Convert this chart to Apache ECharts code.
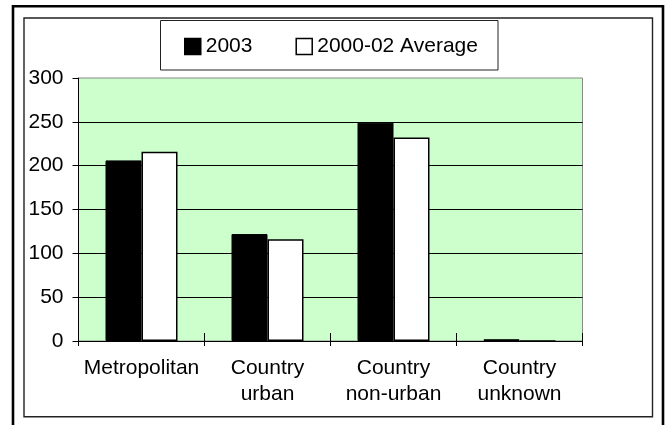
<!DOCTYPE html>
<html>
<head>
<meta charset="utf-8">
<script src="https://cdn.jsdelivr.net/npm/echarts@6/dist/echarts.min.js"></script>
<style>
  html, body { margin: 0; padding: 0; background: #fff; }
  #chart { width: 666px; height: 425px; }
</style>
</head>
<body>
<div id="chart"></div>
<script>
var categories = ['Metropolitan', 'Country\nurban', 'Country\nnon-urban', 'Country\nunknown'];
var seriesNames = ['2003', '2000-02 Average'];
var values2003 = [206, 122, 249, 2];
var valuesAvg = [216, 116, 232, 0];

var font = 'Liberation Sans, Arial, sans-serif';
var chart = echarts.init(document.getElementById('chart'));

var option = {
    animation: false,
    textStyle: { fontFamily: font },
    graphic: [
        // outer frame
        { type: 'rect', shape: { x: 13, y: 6.3, width: 650, height: 440 },
          style: { fill: 'none', stroke: '#000', lineWidth: 2.6 }, silent: true },
        // chart area border
        { type: 'rect', shape: { x: 24, y: 18, width: 628.5, height: 398.7 },
          style: { fill: 'none', stroke: '#222', lineWidth: 1.4 }, silent: true },
        // legend box
        { type: 'rect', shape: { x: 160.5, y: 20.5, width: 337.5, height: 49.5 },
          style: { fill: '#fff', stroke: '#222', lineWidth: 1 }, silent: true, z: -1 }
    ],
    legend: {
        data: seriesNames,
        left: 179,
        top: 31,
        icon: 'rect',
        itemWidth: 16,
        itemHeight: 16,
        itemGap: 43,
        textStyle: { fontSize: 21, color: '#000', fontFamily: font },
        itemStyle: { borderColor: '#000', borderWidth: 1.5 }
    },
    grid: {
        left: 78.5,
        right: 83.5,
        top: 78,
        bottom: 84,
        show: true,
        backgroundColor: '#CCFFCC',
        borderColor: '#888',
        borderWidth: 1
    },
    xAxis: [
        {
            type: 'category',
            data: categories,
            axisLine: { lineStyle: { color: '#000', width: 1 } },
            axisTick: { show: true, inside: false, length: 5, lineStyle: { color: '#000' } },
            axisLabel: { fontSize: 21, color: '#000', lineHeight: 26, margin: 14, interval: 0 },
            splitLine: { show: false }
        },
        {
            type: 'category',
            data: categories,
            position: 'bottom',
            axisLine: { show: false },
            axisTick: { show: true, inside: true, length: 8, lineStyle: { color: '#000' } },
            axisLabel: { show: false },
            splitLine: { show: false }
        }
    ],
    yAxis: {
        type: 'value',
        min: 0,
        max: 300,
        interval: 50,
        axisLine: { show: true, lineStyle: { color: '#000', width: 1 } },
        axisTick: { show: true, inside: false, length: 6, lineStyle: { color: '#000' } },
        axisLabel: { fontSize: 21, color: '#000', margin: 15 },
        splitLine: { show: true, showMaxLine: false, lineStyle: { color: '#000', width: 1 } }
    },
    series: [
        {
            name: seriesNames[0],
            type: 'bar',
            data: values2003,
            barWidth: 36,
            barGap: '0%',
            itemStyle: { color: '#000', borderColor: '#000', borderWidth: 1 }
        },
        {
            name: seriesNames[1],
            type: 'bar',
            data: valuesAvg,
            barWidth: 36,
            barGap: '0%',
            itemStyle: { color: '#fff', borderColor: '#000', borderWidth: 1.5 }
        }
    ]
};

chart.setOption(option);
</script>
</body>
</html>
